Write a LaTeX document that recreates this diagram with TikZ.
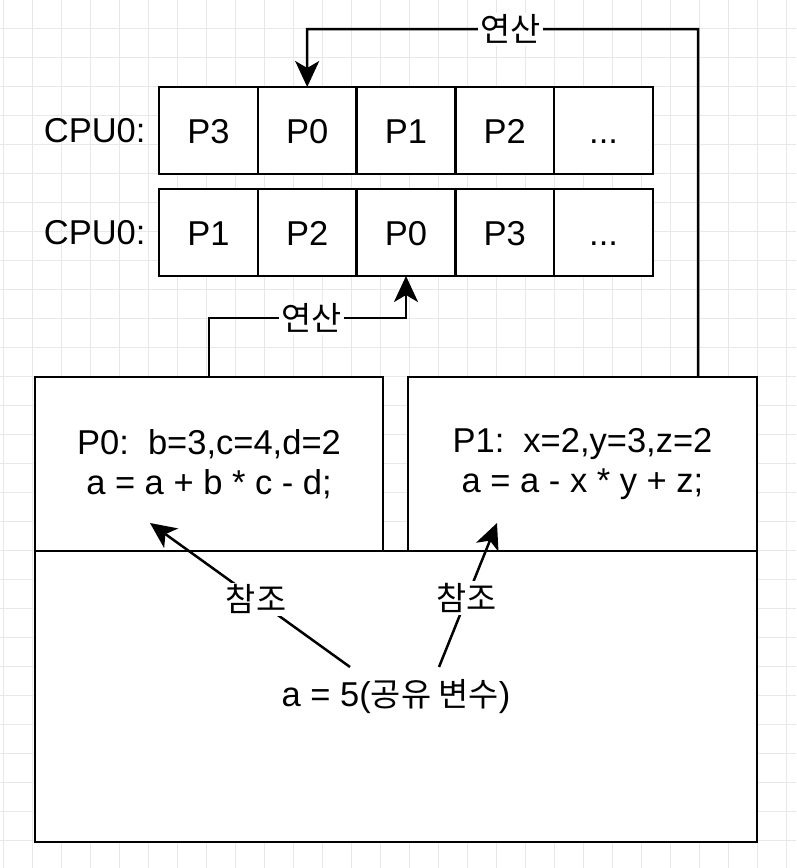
\documentclass[tikz,border=0pt]{standalone}
\usepackage{fontspec}
\setmainfont{Liberation Sans}
\newfontfamily\kr{Noto Sans CJK KR}[Scale=0.95]
\usetikzlibrary{positioning,arrows.meta}

\tikzset{
  gridline/.style={black!9, line width=1pt},
  cell/.style={draw, fill=white, line width=2.5pt, minimum width=98.8pt, minimum height=87pt,
               text height=25pt, text depth=0pt, inner sep=0pt, outer sep=0pt},
  procbox/.style={draw, fill=white, line width=2.5pt, align=center, inner sep=0pt, outer sep=0pt},
  link/.style={line width=2.5pt, -{Stealth[length=26pt,width=24pt,inset=7pt]}},
  tag/.style={fill=white, inner sep=2pt},
}

\begin{document}
\begin{tikzpicture}[x=1pt, y=-1pt, font=\fontsize{34.5}{40}\selectfont]
     \fill[white] (0,0) rectangle (796,868);
     \useasboundingbox (0,0) rectangle (796,868);
     \foreach \gx in {3,32,...,796} \draw[gridline] (\gx,0) -- (\gx,868);
     \foreach \gy in {28,57,...,868} \draw[gridline] (0,\gy) -- (796,\gy);

     % run queues
     \node[cell] (a1) at (208.4,130.5) {P3};
     \node[cell, right=0pt of a1] (a2) {P0};
     \node[cell, right=0pt of a2] (a3) {P1};
     \node[cell, right=0pt of a3] (a4) {P2};
     \node[cell, right=0pt of a4] (a5) {...};
     \node[left=10pt of a1] (cpua) {CPU0:};

     \node[cell, below=15pt of a1] (b1) {P1};
     \node[cell, right=0pt of b1] (b2) {P2};
     \node[cell, right=0pt of b2] (b3) {P0};
     \node[cell, right=0pt of b3] (b4) {P3};
     \node[cell, right=0pt of b4] (b5) {...};
     \node[left=10pt of b1] (cpub) {CPU0:};

     % processes and shared memory
     \node[procbox, minimum width=348pt, minimum height=174pt] (p0) at (209,464)
          {P0:\ \ b=3,c=4,d=2\\a = a + b * c - d;};
     \node[procbox, minimum width=349pt, minimum height=174pt, right=25pt of p0] (p1)
          {P1:\ \ x=2,y=3,z=2\\a = a - x * y + z;};
     \node[procbox, minimum width=722pt, minimum height=291pt, anchor=north west] (mem)
          at (p0.south west) {a = 5({\kr 공유 변수})};

     \coordinate (upper) at (307.2,29);
     \draw[link] ([xshift=-59pt]p1.north east) |- (upper) node[tag, pos=0.74] {\kr 연산} -- (a2.north);
     \draw[link] (p0.north) |- ([yshift=-42pt]b3.south) node[tag, pos=0.76] {\kr 연산} -- (b3.south);

     \coordinate (refa) at (350,667);
     \coordinate (refb) at (439,667);
     \coordinate (usea) at (150,523);
     \coordinate (useb) at (497,523);
     \draw[link] (refa) -- node[tag, pos=0.47] {\kr 참조} (usea);
     \draw[link] (refb) -- node[tag, pos=0.48] {\kr 참조} (useb);
\end{tikzpicture}
\end{document}
